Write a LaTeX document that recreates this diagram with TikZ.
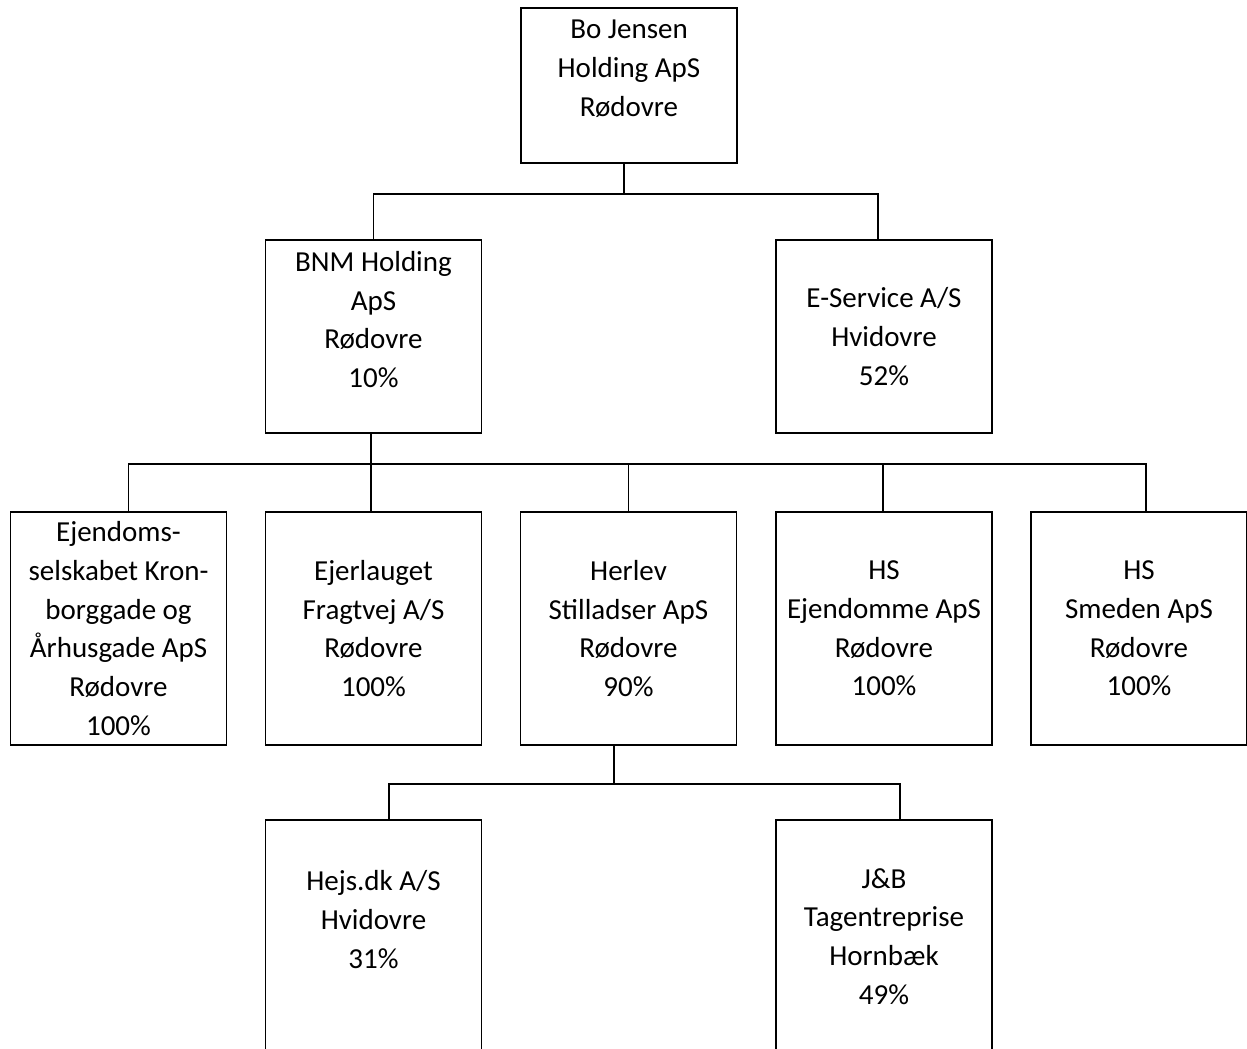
\documentclass[tikz,border=0pt]{standalone}
\usepackage{fontspec}
\setmainfont{Carlito}
\begin{document}
\begin{tikzpicture}[x=0.02cm, y=-0.02cm,
  firm/.style={draw, line width=1pt, align=center, inner sep=0pt,
    minimum width=4.32cm, font=\fontsize{16.5}{22}\selectfont},
  link/.style={line width=0.9pt}]
\useasboundingbox (0,0) rectangle (1247,1048);
\clip (0,0) rectangle (1247,1048);
\node[firm, minimum height=3.1cm](bojensen) at (629, 85.5) {Bo Jensen\\Holding ApS\\Rødovre\\[-9pt]\strut};
\node[firm, minimum height=3.86cm](bnm) at (373.5, 336.5) {BNM Holding\\ApS\\Rødovre\\10\%\\[-9pt]\strut};
\node[firm, minimum height=3.86cm](eservice) at (884, 336.5) {E-Service A/S\\Hvidovre\\52\%};
\node[firm, minimum height=4.66cm](ejendoms) at (118.5, 628.5) {Ejendoms-\\selskabet Kron-\\borggade og\\Århusgade ApS\\Rødovre\\100\%};
\node[firm, minimum height=4.66cm](ejerlauget) at (373.5, 628.5) {Ejerlauget\\Fragtvej A/S\\Rødovre\\100\%};
\node[firm, minimum height=4.66cm](herlev) at (628.5, 628.5) {Herlev\\Stilladser ApS\\Rødovre\\90\%};
\node[firm, minimum height=4.66cm](hsejendomme) at (884, 628.5) {HS\\Ejendomme ApS\\Rødovre\\100\%};
\node[firm, minimum height=4.66cm](hssmeden) at (1139, 628.5) {HS\\Smeden ApS\\Rødovre\\100\%};
\node[firm, minimum height=4.66cm](hejs) at (373.5, 936.5) {Hejs.dk A/S\\Hvidovre\\31\%\\[-9pt]\strut};
\node[firm, minimum height=4.66cm](jb) at (884, 936.5) {J\&B\\Tagentreprise\\Hornbæk\\49\%};
\draw[link] ([xshift=-0.1cm]bojensen.south) -- ++(0,30) -| (bnm.north);
\draw[link] ([xshift=-0.1cm]bojensen.south) -- ++(0,30) -| ([xshift=-0.12cm]eservice.north);
\draw[link] ([xshift=-0.05cm]bnm.south) -- ([xshift=-0.05cm]ejerlauget.north);
\draw[link] ([xshift=0.2cm]ejendoms.north) -- ++(0,-47) -| ([xshift=0.14cm]hssmeden.north);
\draw[link] (herlev.north) -- ++(0,-47);
\draw[link] ([xshift=-0.02cm]hsejendomme.north) -- ++(0,-47);
\draw[link] ([xshift=-0.29cm]herlev.south) -- ++(0,38) -| ([xshift=0.31cm]hejs.north);
\draw[link] ([xshift=-0.29cm]herlev.south) -- ++(0,38) -| ([xshift=0.32cm]jb.north);
\end{tikzpicture}
\end{document}
